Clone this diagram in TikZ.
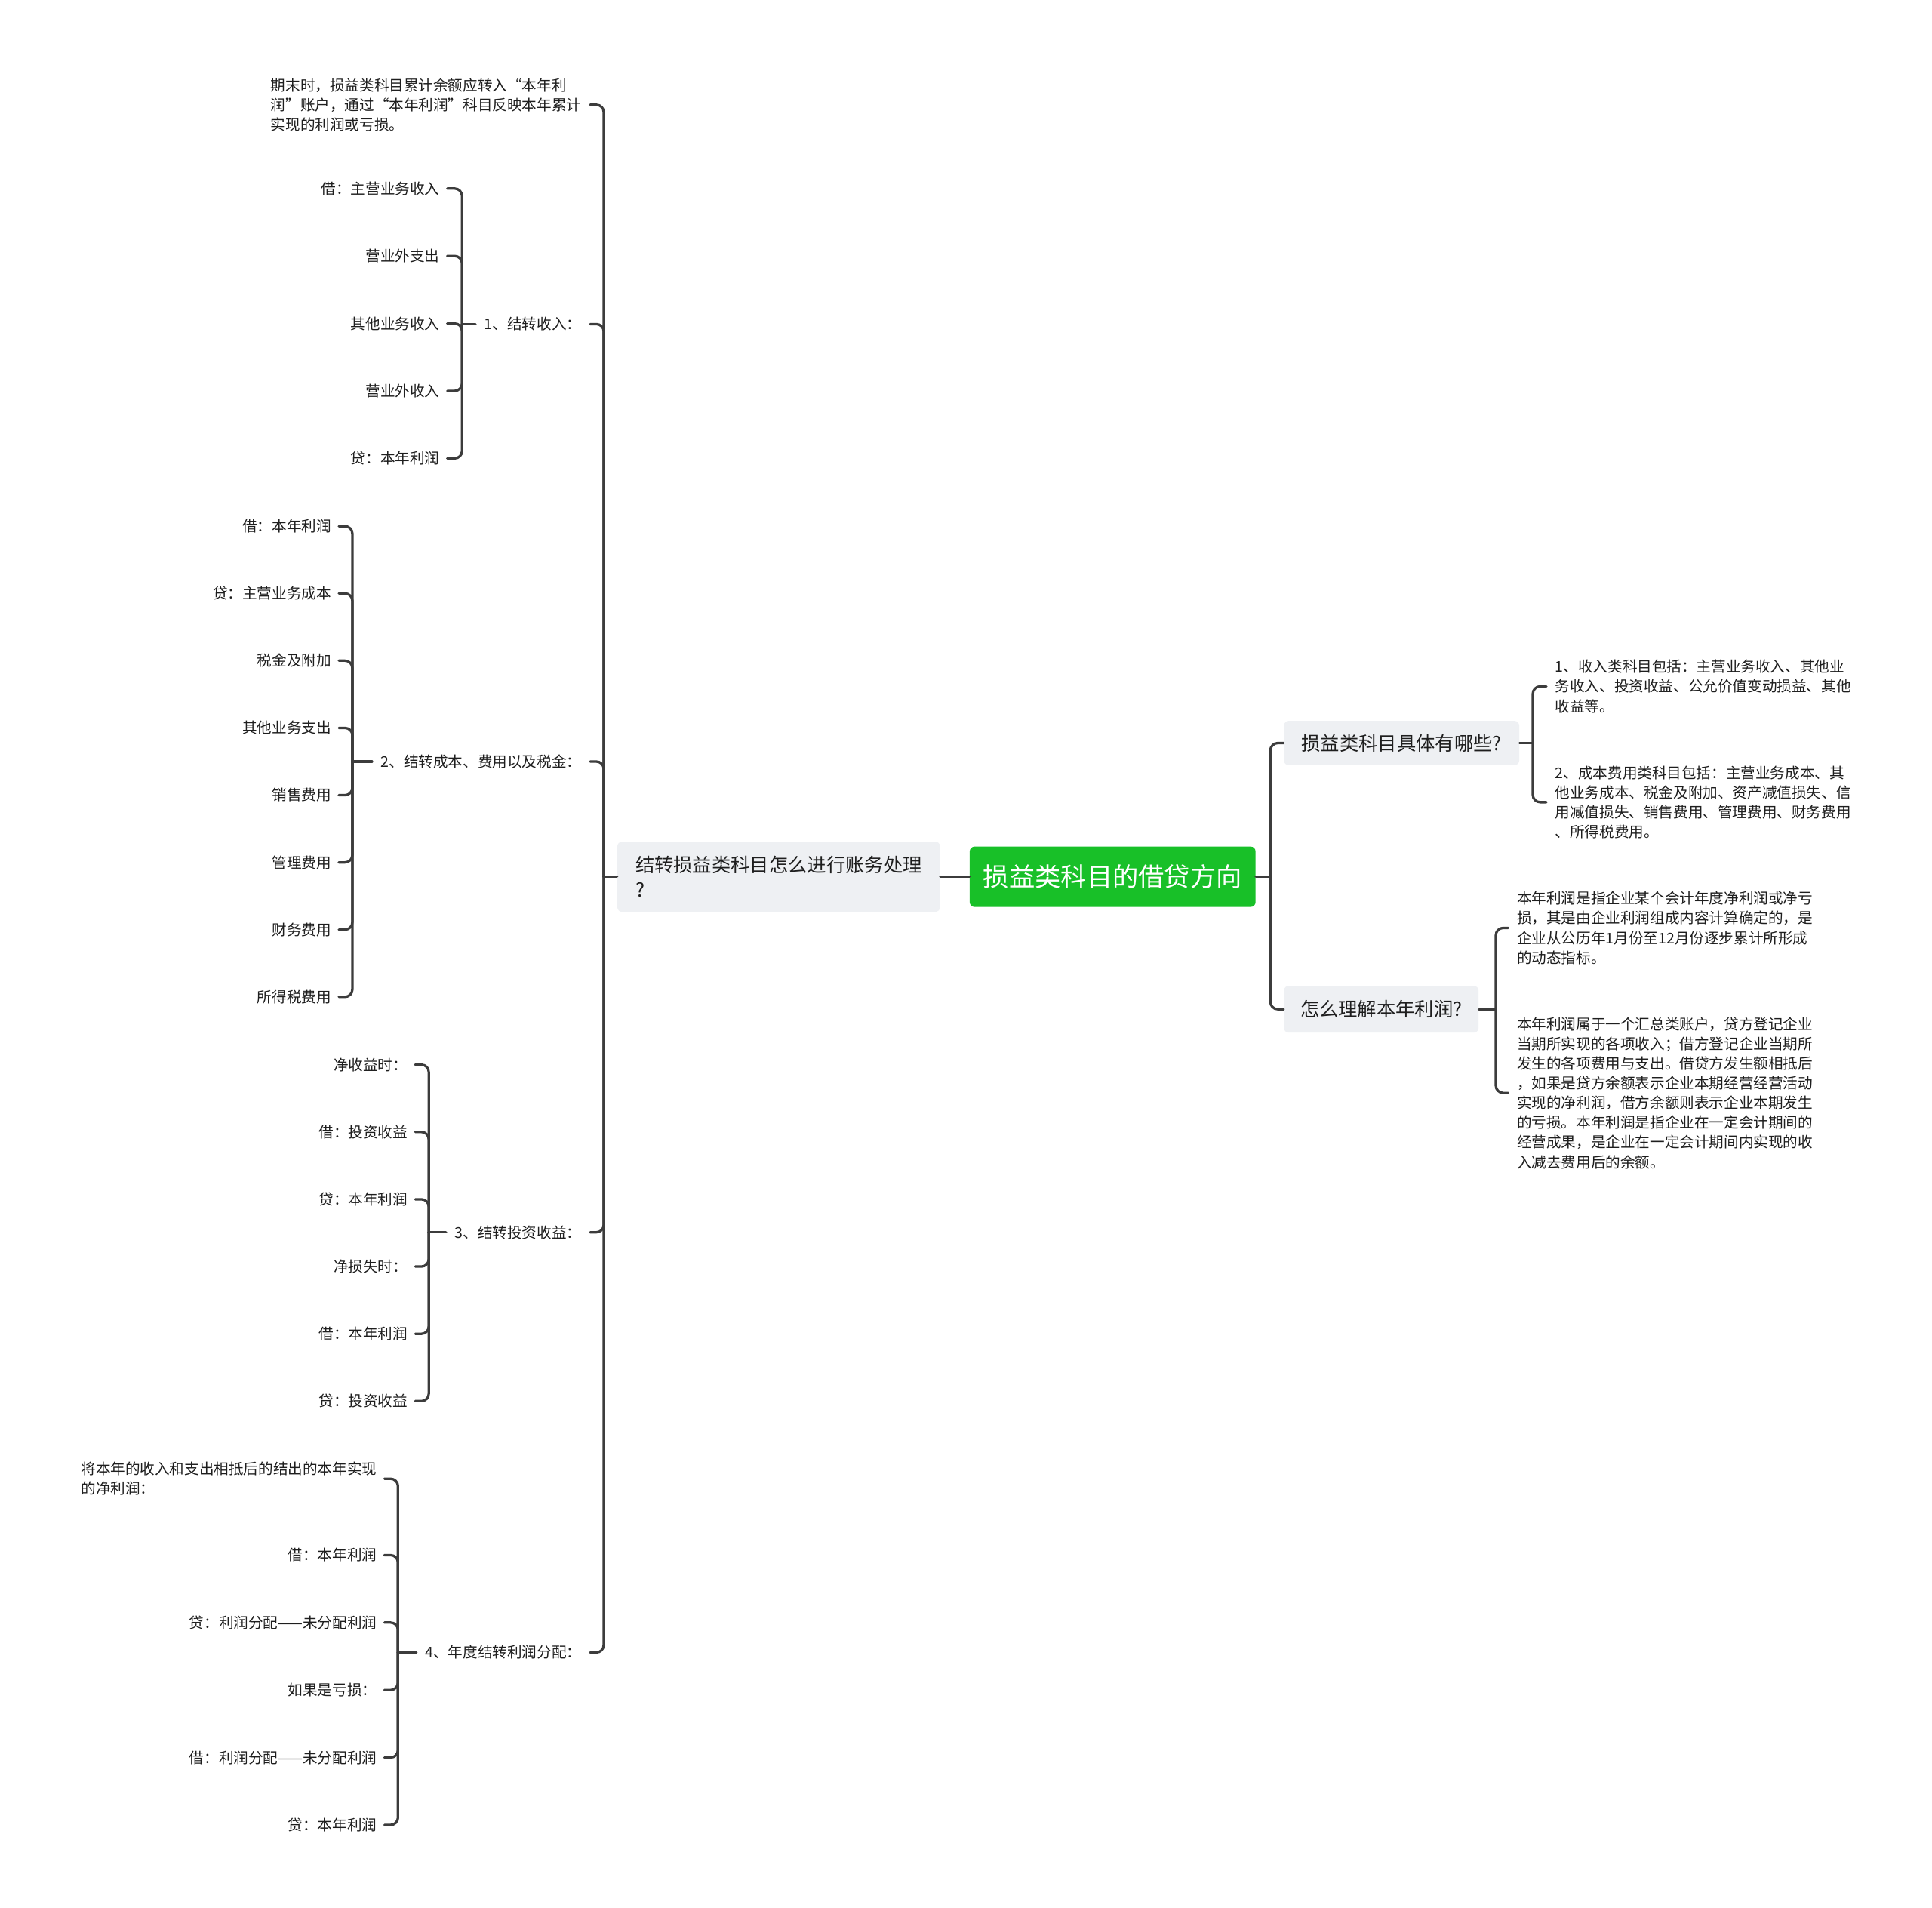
\documentclass[tikz,border=0pt]{standalone}
\usepackage{fontspec}
\setmainfont{Noto Sans CJK SC}
\definecolor{rootgreen}{RGB}{24,192,40}
\definecolor{topicgray}{RGB}{238,240,243}
\definecolor{linegray}{RGB}{60,60,60}
\definecolor{textgray}{RGB}{30,30,30}

\begin{document}
\begin{tikzpicture}[x=1pt,y=-1pt,line cap=round,line join=round,
    conn/.style={draw=linegray,line width=2pt,rounded corners=6pt},
    rootbox/.style={fill=rootgreen,text=white,rounded corners=4pt,
      minimum width=232pt,minimum height=49pt,font=\fontsize{21}{26}\selectfont},
    topicbox/.style={fill=topicgray,text=textgray,rounded corners=4pt,
      font=\fontsize{15.5}{20}\selectfont,align=left},
    subnode/.style={text=textgray,font=\fontsize{12}{16}\selectfont,
      inner xsep=7pt,inner ysep=2pt,anchor=east,align=left},
    leafl/.style={text=textgray,font=\fontsize{12}{16}\selectfont,
      inner xsep=6pt,inner ysep=2pt,anchor=east,align=left},
    leafr/.style={text=textgray,font=\fontsize{12}{16}\selectfont,
      inner xsep=7pt,inner ysep=2pt,anchor=west,align=left}]
    \fill[white] (0,0) rectangle (1568,1548);
    \useasboundingbox (0,0) rectangle (1568,1548);

    % Tema central y temas principales
    \node[rootbox] (root) at (903,711.5) {损益类科目的借贷方向};
    \node[topicbox,minimum width=262pt,minimum height=57pt] (qleft) at (632,711.5)
        {结转损益类科目怎么进行账务处理\\?};
    \node[topicbox,minimum width=191pt,minimum height=36pt] (qkinds) at (1137.5,603)
        {损益类科目具体有哪些?};
    \node[topicbox,minimum width=158pt,minimum height=38pt] (qprofit) at (1121,819)
        {怎么理解本年利润?};

    % Puntos de las llaves
    \coordinate (brleft) at (490,711.5);
    \coordinate (brright) at (1031,711.5);
    \coordinate (brinc) at (375,263);
    \coordinate (brcost) at (286,618);
    \coordinate (brinv) at (348,1000);
    \coordinate (brdist) at (323,1341);
    \coordinate (brkinds) at (1244,603);
    \coordinate (brprofit) at (1214,819);

    % Rama izquierda
    \node[subnode] (step0) at (479,85)
        {期末时，损益类科目累计余额应转入“本年利\\润”账户，通过“本年利润”科目反映本年累计\\实现的利润或亏损。};
    \node[subnode] (step1) at (479,263) {1、结转收入：};
    \node[subnode] (step2) at (479,618) {2、结转成本、费用以及税金：};
    \node[subnode] (step3) at (479,1000) {3、结转投资收益：};
    \node[subnode] (step4) at (479,1341) {4、年度结转利润分配：};

    \draw[conn] (root.west) -- (qleft.east);
    \draw[conn] (qleft.west) -- (brleft);
    \foreach \s in {0,...,4}
        \draw[conn] (step\s.east) -| (brleft);

    % 1: ingresos
    \foreach \txt [count=\i] in {借：主营业务收入,营业外支出,其他业务收入,营业外收入,贷：本年利润}{
        \node[leafl] (inc\i) at (363,{153+(\i-1)*54.75}) {\txt};
        \draw[conn] (inc\i.east) -| (brinc);
    }
    \draw[conn] (brinc) -- (step1.west);

    % 2: costes
    \foreach \txt [count=\i] in {借：本年利润,贷：主营业务成本,税金及附加,其他业务支出,销售费用,管理费用,财务费用,所得税费用}{
        \node[leafl] (cost\i) at (275,{427+(\i-1)*54.57}) {\txt};
        \draw[conn] (cost\i.east) -| (brcost);
    }
    \draw[conn] (brcost) -- (step2.west);

    % 3: inversiones
    \foreach \txt [count=\i] in {净收益时：,借：投资收益,贷：本年利润,净损失时：,借：本年利润,贷：投资收益}{
        \node[leafl] (inv\i) at (337,{864+(\i-1)*54.6}) {\txt};
        \draw[conn] (inv\i.east) -| (brinv);
    }
    \draw[conn] (brinv) -- (step3.west);

    % 4: distribucion
    \node[leafl] (dist1) at (312,1200) {将本年的收入和支出相抵后的结出的本年实现\\的净利润：};
    \draw[conn] (dist1.east) -| (brdist);
    \foreach \txt [count=\i from 2] in {借：本年利润,贷：利润分配——未分配利润,如果是亏损：,借：利润分配——未分配利润,贷：本年利润}{
        \node[leafl] (dist\i) at (312,{1262+(\i-2)*54.75}) {\txt};
        \draw[conn] (dist\i.east) -| (brdist);
    }
    \draw[conn] (brdist) -- (step4.west);

    % Rama derecha
    \draw[conn] (root.east) -- (brright);
    \draw[conn] (brright) |- (qkinds.west);
    \draw[conn] (brright) |- (qprofit.west);

    \node[leafr] (kind1) at (1255,557)
        {1、收入类科目包括：主营业务收入、其他业\\务收入、投资收益、公允价值变动损益、其他\\收益等。};
    \node[leafr] (kind2) at (1255,651)
        {2、成本费用类科目包括：主营业务成本、其\\他业务成本、税金及附加、资产减值损失、信\\用减值损失、销售费用、管理费用、财务费用\\、所得税费用。};
    \draw[conn] (qkinds.east) -- (brkinds);
    \draw[conn] (brkinds) |- (kind1.west);
    \draw[conn] (brkinds) |- (kind2.west);

    \node[leafr] (def1) at (1224,753)
        {本年利润是指企业某个会计年度净利润或净亏\\损，其是由企业利润组成内容计算确定的，是\\企业从公历年1月份至12月份逐步累计所形成\\的动态指标。};
    \node[leafr] (def2) at (1224,887)
        {本年利润属于一个汇总类账户，贷方登记企业\\当期所实现的各项收入；借方登记企业当期所\\发生的各项费用与支出。借贷方发生额相抵后\\，如果是贷方余额表示企业本期经营经营活动\\实现的净利润，借方余额则表示企业本期发生\\的亏损。本年利润是指企业在一定会计期间的\\经营成果，是企业在一定会计期间内实现的收\\入减去费用后的余额。};
    \draw[conn] (qprofit.east) -- (brprofit);
    \draw[conn] (brprofit) |- (def1.west);
    \draw[conn] (brprofit) |- (def2.west);
\end{tikzpicture}
\end{document}
